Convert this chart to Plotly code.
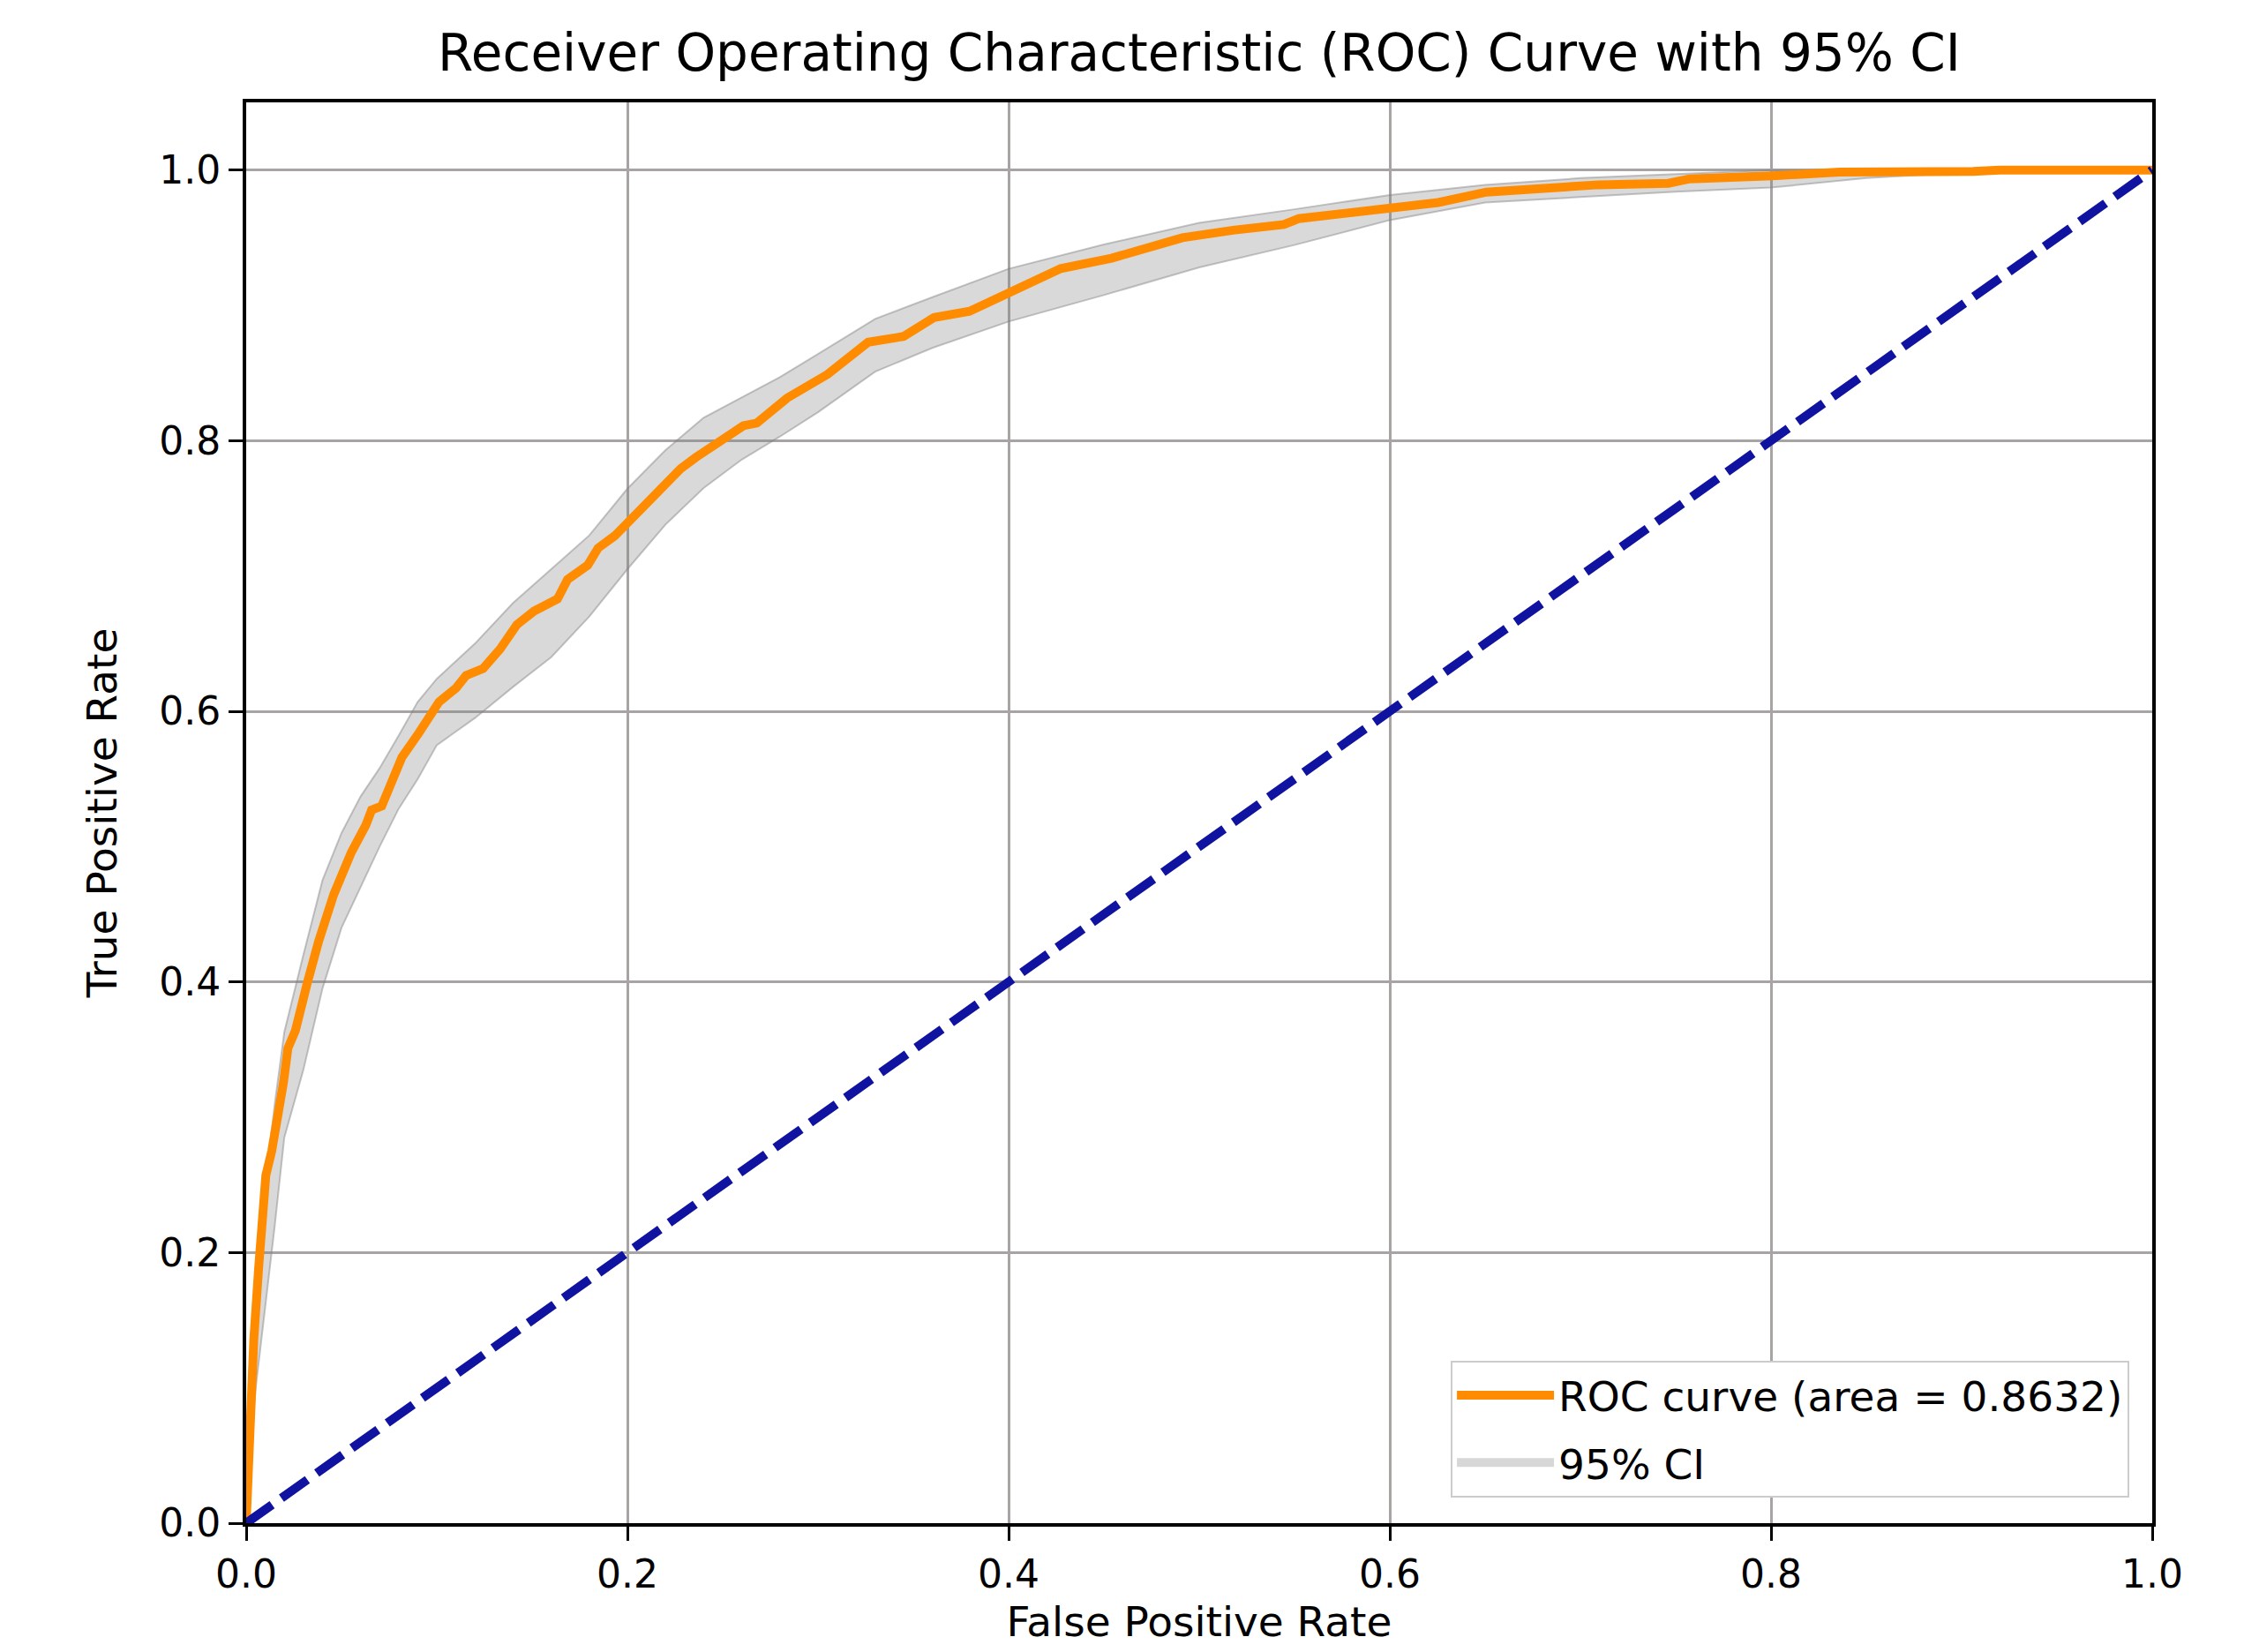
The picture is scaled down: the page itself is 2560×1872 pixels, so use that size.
import plotly.graph_objects as go

# ROC curve (false positive rate, true positive rate)
fpr = [0, 0.0026, 0.004, 0.0065, 0.008, 0.0103, 0.0134, 0.0165, 0.0196, 0.0219,
       0.0258, 0.032, 0.038, 0.0459, 0.0551, 0.0628, 0.0658, 0.0711, 0.0764, 0.0817,
       0.0906, 0.1012, 0.110, 0.1154, 0.1243, 0.1332, 0.142, 0.151, 0.1633, 0.1686,
       0.1792, 0.1846, 0.1934, 0.2005, 0.2112, 0.22, 0.228, 0.236, 0.2502, 0.2608,
       0.2679, 0.2838, 0.305, 0.3263, 0.3449, 0.3609, 0.3795, 0.4008, 0.4274, 0.454,
       0.4805, 0.4912, 0.5178, 0.5444, 0.5523, 0.5763, 0.6002, 0.6254, 0.6507, 0.6815,
       0.7096, 0.7461, 0.7573, 0.8008, 0.836, 0.9061, 0.92, 1.0]
tpr = [0, 0.092, 0.136, 0.188, 0.223, 0.257, 0.275, 0.299, 0.326, 0.351,
       0.364, 0.399, 0.430, 0.4645, 0.4956, 0.516, 0.527, 0.530, 0.550, 0.566,
       0.584, 0.607, 0.617, 0.6265, 0.6316, 0.646, 0.664, 0.674, 0.683, 0.6974,
       0.708, 0.7206, 0.7297, 0.740, 0.754, 0.767, 0.7793, 0.7877, 0.8006, 0.811,
       0.813, 0.8315, 0.849, 0.8728, 0.877, 0.891, 0.8956, 0.9098, 0.9272, 0.9348,
       0.9446, 0.950, 0.9555, 0.9597, 0.9641, 0.9685, 0.9728, 0.976, 0.9837, 0.987,
       0.9891, 0.9902, 0.9935, 0.9957, 0.9985, 0.999, 1.0, 1.0]

# 95% confidence band
ci_fpr = [0, 0.002, 0.005, 0.01, 0.015, 0.02, 0.03, 0.04, 0.05, 0.06, 0.07, 0.08,
          0.09, 0.1, 0.12, 0.14, 0.16, 0.18, 0.2, 0.22, 0.24, 0.26, 0.28, 0.3,
          0.33, 0.36, 0.4, 0.45, 0.5, 0.55, 0.6, 0.65, 0.7, 0.75, 0.8, 0.85, 0.9,
          0.95, 1.0]
ci_upper = [0, 0.105, 0.18, 0.25, 0.31, 0.363, 0.42, 0.475, 0.51, 0.537, 0.558, 0.582,
            0.607, 0.624, 0.65, 0.68, 0.705, 0.73, 0.7645, 0.793, 0.817, 0.832, 0.847, 0.864,
            0.89, 0.906, 0.927, 0.945, 0.961, 0.971, 0.9815, 0.989, 0.994, 0.997, 1.0, 1.0, 1.0,
            1.0, 1.0]
ci_lower = [0, 0.05, 0.1, 0.16, 0.22, 0.285, 0.335, 0.395, 0.44, 0.47, 0.50, 0.528,
            0.55, 0.575, 0.595, 0.618, 0.64, 0.67, 0.705, 0.738, 0.765, 0.786, 0.803, 0.821,
            0.851, 0.8685, 0.888, 0.9076, 0.928, 0.9446, 0.963, 0.976, 0.98, 0.984, 0.987, 0.994, 0.998,
            1.0, 1.0]

diag = [0, 1]
roc_auc = 0.8632
ticks = [0.0, 0.2, 0.4, 0.6, 0.8, 1.0]

FONT = "DejaVu Sans"
CI_FILL = 'rgba(128,128,128,0.3)'

fig = go.Figure()

# CI band as one closed polygon: upper edge out, lower edge back
fig.add_trace(go.Scatter(
    x=ci_fpr + ci_fpr[::-1], y=ci_upper + ci_lower[::-1],
    fill='toself', fillcolor=CI_FILL,
    line=dict(color='rgba(128,128,128,0.45)', width=2),
    mode='lines', showlegend=False, hoverinfo='skip'))

fig.add_trace(go.Scatter(
    x=fpr, y=tpr, mode='lines',
    line=dict(color='#ff8c00', width=10),
    name=f'ROC curve (area = {roc_auc:.4f})', legendrank=1, legendgroup='roc'))

fig.add_trace(go.Scatter(
    x=diag, y=diag, mode='lines',
    line=dict(color='#0f13a0', width=10, dash='36px,13px'),
    showlegend=False))

# legend entry for the band (plotly's fill swatch is only a few px tall)
fig.add_trace(go.Scatter(
    x=[None], y=[None], mode='lines',
    line=dict(color='#d7d7d7', width=10),
    name='95% CI', legendrank=2, legendgroup='ci'))

axis_style = dict(
    showline=True, mirror=True, linecolor='black', linewidth=4,
    ticks='outside', ticklen=16, tickwidth=3, tickcolor='black',
    showgrid=True, gridcolor='#a8a4a4', gridwidth=2.5,
    zeroline=False, tickvals=ticks, tickformat='.1f',
    tickfont=dict(family=FONT, size=44, color='black'),
)

fig.update_xaxes(range=[0, 1], **axis_style,
                 title=dict(text='False Positive Rate', standoff=14,
                            font=dict(family=FONT, size=47, color='black')))
fig.update_yaxes(range=[0, 1.05], **axis_style,
                 title=dict(text='True Positive Rate', standoff=34,
                            font=dict(family=FONT, size=47, color='black')))

fig.update_layout(
    width=2560, height=1872,
    margin=dict(l=271, r=129, t=108, b=154, autoexpand=False),
    paper_bgcolor='white', plot_bgcolor='white',
    title=dict(text='Receiver Operating Characteristic (ROC) Curve with 95% CI',
               x=0.5, xref='paper', y=1 - 52 / 1872, yref='container', yanchor='middle',
               font=dict(family=FONT, size=58, color='black')),
    legend=dict(x=0.988, y=0.018, xanchor='right', yanchor='bottom',
                bgcolor='white', bordercolor='#cccccc', borderwidth=2,
                font=dict(family=FONT, size=47, color='black'),
                itemwidth=110, traceorder='grouped', tracegroupgap=12),
    showlegend=True,
)

fig.write_html("out.html")
